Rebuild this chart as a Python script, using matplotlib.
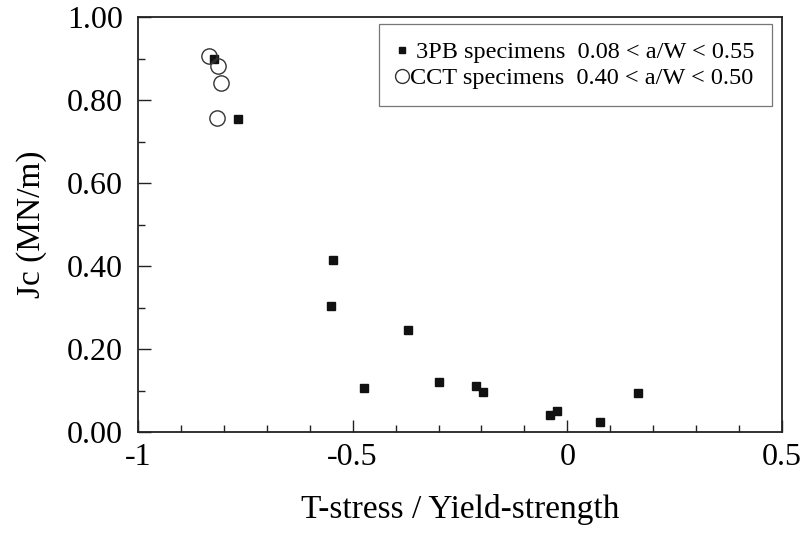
import matplotlib
matplotlib.use("Agg")
import matplotlib.pyplot as plt
from matplotlib.lines import Line2D
from matplotlib.ticker import MultipleLocator, FormatStrFormatter

# 3PB specimens (filled squares)
pb_x = [-0.824, -0.766, -0.546, -0.550, -0.372, -0.473, -0.300, -0.213, -0.197, -0.040, -0.023, 0.075, 0.164]
pb_y = [0.900, 0.756, 0.415, 0.305, 0.245, 0.105, 0.120, 0.110, 0.097, 0.040, 0.050, 0.025, 0.095]

# CCT specimens (open circles)
cct_x = [-0.834, -0.813, -0.806, -0.815]
cct_y = [0.907, 0.882, 0.842, 0.757]

pb_label = " 3PB specimens  0.08 < a/W < 0.55"
cct_label = "CCT specimens  0.40 < a/W < 0.50"

plt.rcParams["font.family"] = ["Liberation Serif", "DejaVu Serif"]

fig = plt.figure(figsize=(8.05, 5.35), dpi=100)
ax = fig.add_axes([0.1714, 0.1925, 0.800, 0.775])

ax.plot(pb_x, pb_y, ls="none", marker="s", ms=6.2, mfc="#111111", mec="#111111")
ax.plot(cct_x, cct_y, ls="none", marker="o", ms=11, mfc="none", mec="#333333", mew=1.0)

ax.set_xlim(-1, 0.5)
ax.set_ylim(0, 1.0)
ax.set_xticks([-1, -0.5, 0, 0.5])
ax.set_xticklabels(["-1", "-0.5", "0", "0.5"])
ax.xaxis.set_minor_locator(MultipleLocator(0.1))
ax.yaxis.set_major_locator(MultipleLocator(0.2))
ax.yaxis.set_minor_locator(MultipleLocator(0.1))
ax.yaxis.set_major_formatter(FormatStrFormatter("%.2f"))

ax.tick_params(which="both", direction="in", top=False, right=False, labelsize=23, color="#222222")
ax.tick_params(which="major", length=9, width=1)
ax.tick_params(which="minor", length=5, width=1)
ax.tick_params(axis="x", pad=8)
ax.tick_params(axis="y", pad=11)
for s in ax.spines.values():
    s.set_linewidth(1.3)
    s.set_color("#222222")

ax.set_xlabel("T-stress / Yield-strength", fontsize=24, labelpad=16)
ax.set_ylabel("Jc (MN/m)", fontsize=24, labelpad=14)

# legend markers are drawn smaller than the plotted ones
handles = [
    Line2D([], [], ls="none", marker="s", ms=4.5, mfc="#111111", mec="#111111"),
    Line2D([], [], ls="none", marker="o", ms=10, mfc="none", mec="#333333", mew=1.0),
]
leg = ax.legend(handles, [pb_label, cct_label], loc="upper right", bbox_to_anchor=(0.984, 0.983),
                borderaxespad=0, fontsize=17.5, frameon=True, fancybox=False, handlelength=0.5,
                handletextpad=0.1, borderpad=0.7, labelspacing=0.15)
leg.get_frame().set_edgecolor("#555555")
leg.get_frame().set_linewidth(0.9)

fig.savefig("out.png", dpi=100)
